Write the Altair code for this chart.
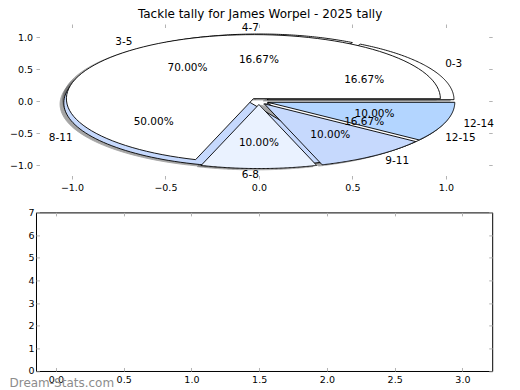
import altair as alt
import pandas as pd

TITLE = "Tackle tally for James Worpel - 2025 tally"
WATERMARK = "Dream-Stats.com"

# ---- data -------------------------------------------------------------
pie1_labels = ["0-3", "4-7", "8-11", "12-15"]
pie1_values = [1, 1, 3, 1]
pie2_labels = ["3-5", "6-8", "9-11", "12-14"]
pie2_values = [7, 1, 1, 1]

pie_axis_ticks = [-1.0, -0.5, 0.0, 0.5, 1.0]
lower_x_ticks = [0.0, 0.5, 1.0, 1.5, 2.0, 2.5, 3.0]
lower_y_ticks = [0, 1, 2, 3, 4, 5, 6, 7]

# ---- styles -----------------------------------------------------------
pie1_colors = ["#ffffff", "#ffffff", "#c6d9fd", "#ffffff"]
pie2_colors = ["#ffffff", "#eaf2ff", "#c6d9fd", "#b3d5ff"]
EXPLODE = 0.05
SHADOW = 0.02
N = 90
FONT = "DejaVu Sans"
TICK_COLOR = "#b4b4b4"

PLOT_L = 36.8
PLOT_R = 493.0
W = PLOT_R - PLOT_L
TOP_H = 155
BOT_H = 158.6


def slice_table(labels, values, pie):
    return pd.DataFrame({"pie": pie, "order": list(range(len(labels))),
                         "label": labels, "value": values})


slices = pd.concat([slice_table(pie1_labels, pie1_values, 1),
                    slice_table(pie2_labels, pie2_values, 2)], ignore_index=True)

color_scale = alt.Scale(domain=pie1_labels + pie2_labels,
                        range=pie1_colors + pie2_colors)

x_top = alt.Scale(domain=[(PLOT_L - 259.7) / 187.0, (PLOT_R - 259.7) / 187.0],
                  nice=False, zero=False)
y_top = alt.Scale(domain=[-1.213, 1.206], nice=False, zero=False)


def make_axis(orient, values, fmt, labels=True, pad=3.5):
    return alt.Axis(orient=orient, values=values, format=fmt, labels=labels,
                    ticks=True, tickSize=3.5, tickColor=TICK_COLOR, tickWidth=1,
                    offset=-3.5, domain=False, grid=False, title=None,
                    labelFont=FONT, labelFontSize=9.5, labelColor="black",
                    labelPadding=pad, labelFlush=False, labelOverlap=False)


base = (
    alt.Chart(slices)
    .transform_joinaggregate(total="sum(value)", groupby=["pie"])
    .transform_window(cum="sum(value)", sort=[alt.SortField("order")],
                      groupby=["pie"], frame=[None, 0])
    .transform_calculate(a0="2*PI*(datum.cum-datum.value)/datum.total")
    .transform_calculate(a1="2*PI*datum.cum/datum.total")
    .transform_calculate(am="(datum.a0+datum.a1)/2")
    .transform_calculate(cx=f"{EXPLODE}*cos(datum.am)")
    .transform_calculate(cy=f"{EXPLODE}*sin(datum.am)")
)

poly = (
    base.transform_calculate(k=f"sequence(0, {N + 3})")
    .transform_flatten(["k"])
    .transform_calculate(ang=f"datum.a0 + (datum.a1-datum.a0)*clamp((datum.k-1)/{N}, 0, 1)")
    .transform_calculate(edge=f"(datum.k == 0 || datum.k == {N + 2}) ? 0 : 1")
    .transform_calculate(px="datum.cx + datum.edge*cos(datum.ang)")
    .transform_calculate(py="datum.cy + datum.edge*sin(datum.ang)")
)

shadows = (
    poly.transform_calculate(sx=f"datum.px - {SHADOW}")
    .transform_calculate(sy=f"datum.py - {SHADOW}")
    .mark_line(fill="#4d4d4d", stroke="#4d4d4d", strokeWidth=0.9, opacity=0.5)
    .encode(
        x=alt.X("sx:Q", scale=x_top, axis=make_axis("bottom", pie_axis_ticks, ".1f")),
        y=alt.Y("sy:Q", scale=y_top, axis=make_axis("left", pie_axis_ticks, ".1f")),
        order=alt.Order("k:Q"),
        detail="label:N",
    )
)


def wedges(p):
    return (
        poly.transform_filter(f"datum.pie == {p}")
        .mark_line(stroke="black", strokeWidth=0.9)
        .encode(
            x=alt.X("px:Q", scale=x_top, axis=None),
            y=alt.Y("py:Q", scale=y_top, axis=None),
            order=alt.Order("k:Q"),
            detail="label:N",
            fill=alt.Fill("label:N", scale=color_scale, legend=None),
        )
    )


lab = (
    base.transform_calculate(lx="datum.cx + 1.1*cos(datum.am)")
    .transform_calculate(ly="datum.cy + 1.1*sin(datum.am)")
    .transform_calculate(qx="datum.cx + 0.6*cos(datum.am)")
    .transform_calculate(qy="datum.cy + 0.6*sin(datum.am)")
    .transform_calculate(pct="format(datum.value/datum.total, '.2%')")
)

pcts = lab.mark_text(align="center", baseline="middle", font=FONT,
                     fontSize=10.5, color="black").encode(
    x=alt.X("qx:Q", scale=x_top, axis=make_axis("top", pie_axis_ticks, ".1f", labels=False)),
    y=alt.Y("qy:Q", scale=y_top, axis=make_axis("right", pie_axis_ticks, ".1f", labels=False)),
    text="pct:N",
)

right_labels = lab.transform_filter("cos(datum.am) > 1e-9").mark_text(
    align="left", baseline="middle", font=FONT, fontSize=10.5, color="black"
).encode(
    x=alt.X("lx:Q", scale=x_top, axis=None),
    y=alt.Y("ly:Q", scale=y_top, axis=None),
    text="label:N",
)

left_labels = lab.transform_filter("cos(datum.am) <= 1e-9").mark_text(
    align="right", baseline="middle", font=FONT, fontSize=10.5, color="black"
).encode(
    x=alt.X("lx:Q", scale=x_top, axis=None),
    y=alt.Y("ly:Q", scale=y_top, axis=None),
    text="label:N",
)

top = (
    alt.layer(shadows, wedges(1), wedges(2), pcts, right_labels, left_labels)
    .resolve_axis(x="independent", y="independent")
    .properties(
        width=W, height=TOP_H,
        title=alt.TitleParams(TITLE, font=FONT, fontSize=12, fontWeight="normal",
                              color="black", anchor="middle", offset=1.5, dx=-4),
        view=alt.ViewBackground(stroke="transparent"),
    )
)

# ---- lower, empty panel -------------------------------------------------
x_bot = alt.Scale(domain=[(PLOT_L - 56.7) / 135.5, (PLOT_R - 56.7) / 135.5],
                  nice=False, zero=False)
y_bot = alt.Scale(domain=[0, 7], nice=False, zero=False)

lower_df = pd.DataFrame({"x": lower_x_ticks})

lower_a = alt.Chart(lower_df).transform_calculate(y="0").mark_point(opacity=0).encode(
    x=alt.X("x:Q", scale=x_bot, axis=make_axis("bottom", lower_x_ticks, ".1f")),
    y=alt.Y("y:Q", scale=y_bot, axis=make_axis("left", lower_y_ticks, "d", pad=2)),
)
lower_b = alt.Chart(lower_df).transform_calculate(y="0").mark_point(opacity=0).encode(
    x=alt.X("x:Q", scale=x_bot, axis=make_axis("top", lower_x_ticks, ".1f", labels=False)),
    y=alt.Y("y:Q", scale=y_bot, axis=make_axis("right", lower_y_ticks, "d", labels=False)),
)
mark_df = pd.DataFrame({"t": [WATERMARK]})
watermark = alt.Chart(mark_df).mark_text(
    align="left", baseline="alphabetic", font=FONT, fontSize=12, color="#8c8c8c"
).encode(x=alt.value(-26.5), y=alt.value(BOT_H + 16), text="t:N")

bottom = (
    alt.layer(lower_a, lower_b, watermark)
    .resolve_axis(x="independent", y="independent")
    .properties(width=W, height=BOT_H,
                view=alt.ViewBackground(stroke="black", strokeWidth=1))
)

chart = (
    alt.vconcat(top, bottom, spacing=33.4, bounds="flush")
    .properties(padding={"top": -1, "left": 0, "right": 0, "bottom": 0},
                background="white")
    .configure_view(stroke="transparent")
)

chart.save("out.html", embed_options={"renderer": "svg", "actions": False})
